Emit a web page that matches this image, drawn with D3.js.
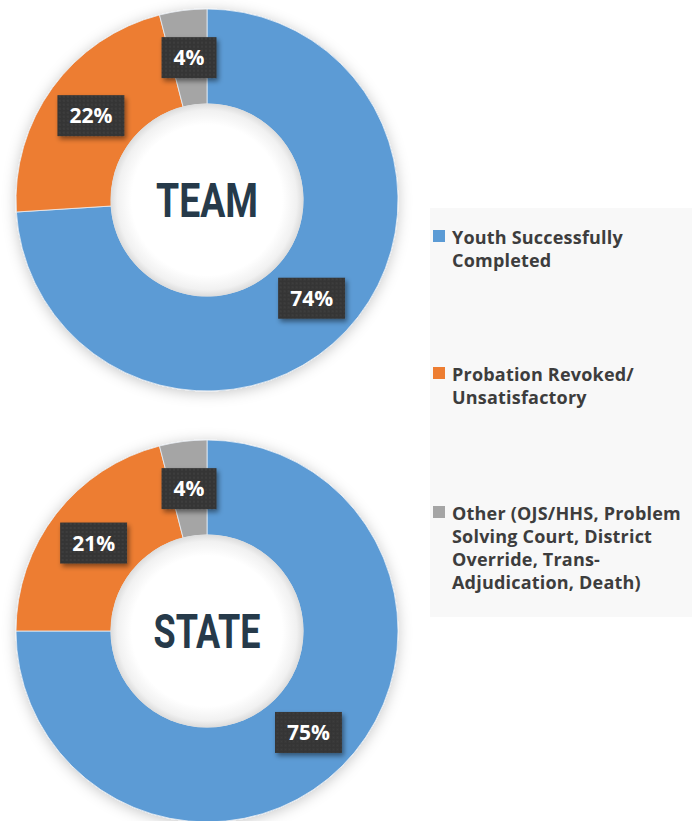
<!DOCTYPE html>
<html>
<head>
<meta charset="utf-8">
<script src="https://cdn.jsdelivr.net/npm/d3@7"></script>
<style>
  html, body { margin: 0; padding: 0; background: #ffffff; }
  svg { display: block; }
</style>
</head>
<body>
<script>
// Case outcomes: share of youth by closure type, TEAM vs. STATE
const groups = ["TEAM", "STATE"];
const categories = [
  "Youth Successfully Completed",
  "Probation Revoked/Unsatisfactory",
  "Other (OJS/HHS, Problem Solving Court, District Override, Trans-Adjudication, Death)"
];
const teamValues = [74, 22, 4];
const stateValues = [75, 21, 4];
const legendLines = [
  ["Youth Successfully", "Completed"],
  ["Probation Revoked/", "Unsatisfactory"],
  ["Other (OJS/HHS, Problem", "Solving Court, District", "Override, Trans-", "Adjudication, Death)"]
];
const colors = ["#5b9bd5", "#ed7d31", "#a5a5a5"];

const W = 699, H = 821;
const svg = d3.select("body").append("svg").attr("width", W).attr("height", H);
const defs = svg.append("defs");

// soft shadow around each ring
const ringShadow = defs.append("filter").attr("id", "ringShadow")
  .attr("x", "-20%").attr("y", "-20%").attr("width", "140%").attr("height", "140%");
ringShadow.append("feDropShadow").attr("dx", 0).attr("dy", 2)
  .attr("stdDeviation", 7).attr("flood-color", "#000").attr("flood-opacity", 0.22);

// shadow under the value tags
const tagShadow = defs.append("filter").attr("id", "tagShadow")
  .attr("x", "-30%").attr("y", "-30%").attr("width", "160%").attr("height", "170%");
tagShadow.append("feDropShadow").attr("dx", 2).attr("dy", 3)
  .attr("stdDeviation", 2.5).attr("flood-color", "#000").attr("flood-opacity", 0.45);

// fine dot texture on the tags
const dots = defs.append("pattern").attr("id", "tagDots")
  .attr("width", 4).attr("height", 4).attr("patternUnits", "userSpaceOnUse");
dots.append("rect").attr("width", 4).attr("height", 4).attr("fill", "#363636");
dots.append("circle").attr("cx", 1).attr("cy", 1).attr("r", 0.7).attr("fill", "#474747");

// inner shading of the hole
const holeGrad = defs.append("radialGradient").attr("id", "holeGrad");
holeGrad.append("stop").attr("offset", "0%").attr("stop-color", "#ffffff");
holeGrad.append("stop").attr("offset", "78%").attr("stop-color", "#ffffff");
holeGrad.append("stop").attr("offset", "93%").attr("stop-color", "#f1f1f1");
holeGrad.append("stop").attr("offset", "100%").attr("stop-color", "#dcdcdc");

// legend panel
svg.append("rect").attr("x", 430).attr("y", 208).attr("width", 262).attr("height", 409)
  .attr("fill", "#f8f8f8");

const outerR = 191, innerR = 96;
const pie = d3.pie().sort(null).value(d => d);
const arc = d3.arc().innerRadius(innerR).outerRadius(outerR);
const color = d3.scaleOrdinal().domain(categories).range(colors);

const charts = [
  { name: groups[0], values: teamValues, cx: 207, cy: 200, titleW: 102 },
  { name: groups[1], values: stateValues, cx: 207, cy: 631, titleW: 107 }
];

charts.forEach(c => {
  const g = svg.append("g").attr("transform", `translate(${c.cx},${c.cy})`);
  const arcs = pie(c.values);

  g.append("g").attr("filter", "url(#ringShadow)")
    .selectAll("path").data(arcs).join("path")
    .attr("d", arc)
    .attr("fill", (d, i) => color(categories[i]))
    .attr("stroke", "#e9eef4").attr("stroke-width", 0.8);

  g.append("circle").attr("r", innerR + 0.5).attr("fill", "url(#holeGrad)");

  g.append("text")
    .attr("text-anchor", "middle")
    .attr("y", 17)
    .attr("font-family", "Roboto, 'DejaVu Sans Condensed', sans-serif")
    .attr("font-weight", 700)
    .attr("font-size", 48)
    .attr("fill", "#263a4a")
    .attr("textLength", c.titleW)
    .attr("lengthAdjust", "spacingAndGlyphs")
    .text(c.name);

  // value tags at arc centroids
  arcs.forEach(d => {
    const [x, y] = arc.centroid(d);
    const tg = g.append("g").attr("transform", `translate(${x},${y})`);
    const rect = tg.append("rect").attr("fill", "url(#tagDots)").attr("filter", "url(#tagShadow)");
    const t = tg.append("text")
      .attr("text-anchor", "middle")
      .attr("y", 7.5)
      .attr("font-family", "'Open Sans', sans-serif")
      .attr("font-weight", 700)
      .attr("font-size", 21)
      .attr("fill", "#ffffff")
      .text(d.data + "%");
    const w = t.node().getComputedTextLength() + 24;
    const h = 41;
    rect.attr("x", -w / 2).attr("y", -h / 2).attr("width", w).attr("height", h);
  });
});

// legend
const legendTop = [230, 367, 506];
const legend = svg.append("g");
categories.forEach((cat, i) => {
  const lg = legend.append("g").attr("transform", `translate(433,${legendTop[i]})`);
  lg.append("rect").attr("width", 12).attr("height", 12).attr("fill", color(cat));
  lg.selectAll("text").data(legendLines[i]).join("text")
    .attr("x", 19)
    .attr("y", (d, j) => 14 + j * 23)
    .attr("font-family", "'Open Sans', sans-serif")
    .attr("font-weight", 700)
    .attr("font-size", 18)
    .attr("letter-spacing", 0.2)
    .attr("fill", "#3d3d3d")
    .text(d => d);
});
</script>
</body>
</html>
